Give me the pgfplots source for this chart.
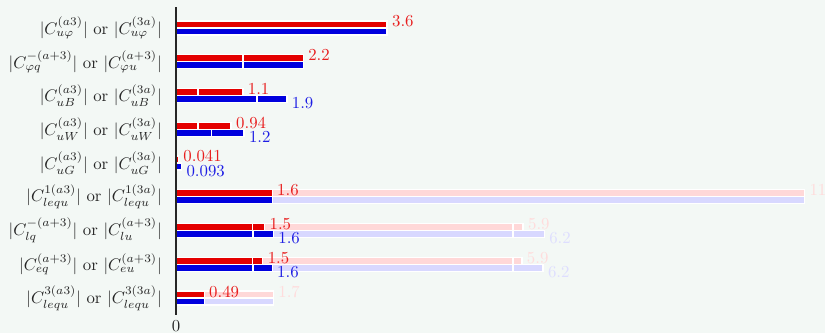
\documentclass[border=0pt]{standalone}
\usepackage{pgfplots}
\pgfplotsset{compat=1.18}
\usetikzlibrary{backgrounds}
\definecolor{bg}{RGB}{243,248,245}
\definecolor{dred}{RGB}{228,0,0}
\definecolor{dblue}{RGB}{0,0,222}
\definecolor{fred}{RGB}{255,216,216}
\definecolor{fblue}{RGB}{216,216,255}
\definecolor{lred}{RGB}{232,30,30}
\definecolor{lblue}{RGB}{30,30,228}
\definecolor{lfred}{RGB}{255,220,220}
\definecolor{lfblue}{RGB}{222,222,255}
\begin{document}
\begin{tikzpicture}
\begin{axis}[
  name=ax,
  x=34.9pt, y=20.1pt,
  xmin=0, xmax=10.8, ymin=0.51, ymax=9.62,
  axis lines=left, axis line style={-},
  x axis line style={draw=none},
  y axis line style={line width=1.1pt, color=black!85},
  xtick={0}, ytick={1,...,9},
  yticklabels={
    {$|C_{lequ}^{3(a3)}|$ or $|C_{lequ}^{3(3a)}|$},
    {$|C_{eq}^{(a+3)}|$ or $|C_{eu}^{(a+3)}|$},
    {$|C_{lq}^{-(a+3)}|$ or $|C_{lu}^{(a+3)}|$},
    {$|C_{lequ}^{1(a3)}|$ or $|C_{lequ}^{1(3a)}|$},
    {$|C_{uG}^{(a3)}|$ or $|C_{uG}^{(3a)}|$},
    {$|C_{uW}^{(a3)}|$ or $|C_{uW}^{(3a)}|$},
    {$|C_{uB}^{(a3)}|$ or $|C_{uB}^{(3a)}|$},
    {$|C_{\varphi q}^{-(a+3)}|$ or $|C_{\varphi u}^{(a+3)}|$},
    {$|C_{u\varphi}^{(a3)}|$ or $|C_{u\varphi}^{(3a)}|$}},
  major tick length=0pt,
  yticklabel style={xshift=-5.0pt, text=black!85},
  xticklabel style={text=black!85},
  clip=false, axis on top,
  bar width=4.17pt,
  barstyle/.style={xbar, bar shift=0pt, draw=white, line width=0.8pt},
  lab/.style={draw=none, mark=none, point meta=explicit symbolic,
    nodes near coords,
    every node near coord/.append style={text=#1, anchor=west, inner sep=0pt, xshift=2.8pt}},
]
% faint, full length
\addplot[barstyle, fill=fred] coordinates {(10.72,4.104) (5.92,3.104) (5.90,2.104) (1.66,1.104)};
\addplot[barstyle, fill=fblue] coordinates {(10.72,3.896) (6.28,2.896) (6.26,1.896) (1.66,0.896)};
% faint, inner segment
\addplot[barstyle, fill=fred] coordinates {(5.75,3.104) (5.75,2.104)};
\addplot[barstyle, fill=fblue] coordinates {(5.75,2.896) (5.75,1.896)};
% dark, full length
\addplot[barstyle, fill=dred] coordinates {(3.60,9.104) (2.17,8.104) (1.14,7.104) (0.94,6.104) (0.041,5.104) (1.64,4.104) (1.51,3.104) (1.48,2.104) (0.48,1.104)};
\addplot[barstyle, fill=dblue] coordinates {(3.60,8.896) (2.17,7.896) (1.89,6.896) (1.16,5.896) (0.093,4.896) (1.64,3.896) (1.66,2.896) (1.64,1.896) (0.48,0.896)};
% dark, inner segment
\addplot[barstyle, fill=dred] coordinates {(1.14,8.104) (0.375,7.104) (0.375,6.104) (1.30,3.104) (1.30,2.104)};
\addplot[barstyle, fill=dblue] coordinates {(1.14,7.896) (1.38,6.896) (0.60,5.896) (1.31,2.896) (1.31,1.896)};
% value labels
\addplot[lab=lred] coordinates {(3.60,9.19)[3.6] (2.17,8.19)[2.2] (1.14,7.19)[1.1] (0.94,6.19)[0.94] (0.041,5.21)[0.041] (1.64,4.19)[1.6] (1.51,3.19)[1.5] (1.48,2.19)[1.5] (0.48,1.19)[0.49]};
\addplot[lab=lblue] coordinates {(1.89,6.77)[1.9] (1.16,5.77)[1.2] (0.093,4.75)[0.093] (1.66,2.77)[1.6] (1.64,1.77)[1.6]};
\addplot[lab=lfred] coordinates {(10.72,4.19)[11] (5.92,3.19)[5.9] (5.90,2.19)[5.9] (1.66,1.19)[1.7]};
\addplot[lab=lfblue] coordinates {(6.28,2.77)[6.2] (6.26,1.77)[6.2]};
\end{axis}
\pgfresetboundingbox
\begin{pgfonlayer}{background}
\path[use as bounding box, fill=bg] ([xshift=-104.8pt,yshift=-10.7pt]ax.south west) rectangle ([xshift=9.4pt,yshift=4.2pt]ax.north east);
\end{pgfonlayer}
\end{tikzpicture}
\end{document}
